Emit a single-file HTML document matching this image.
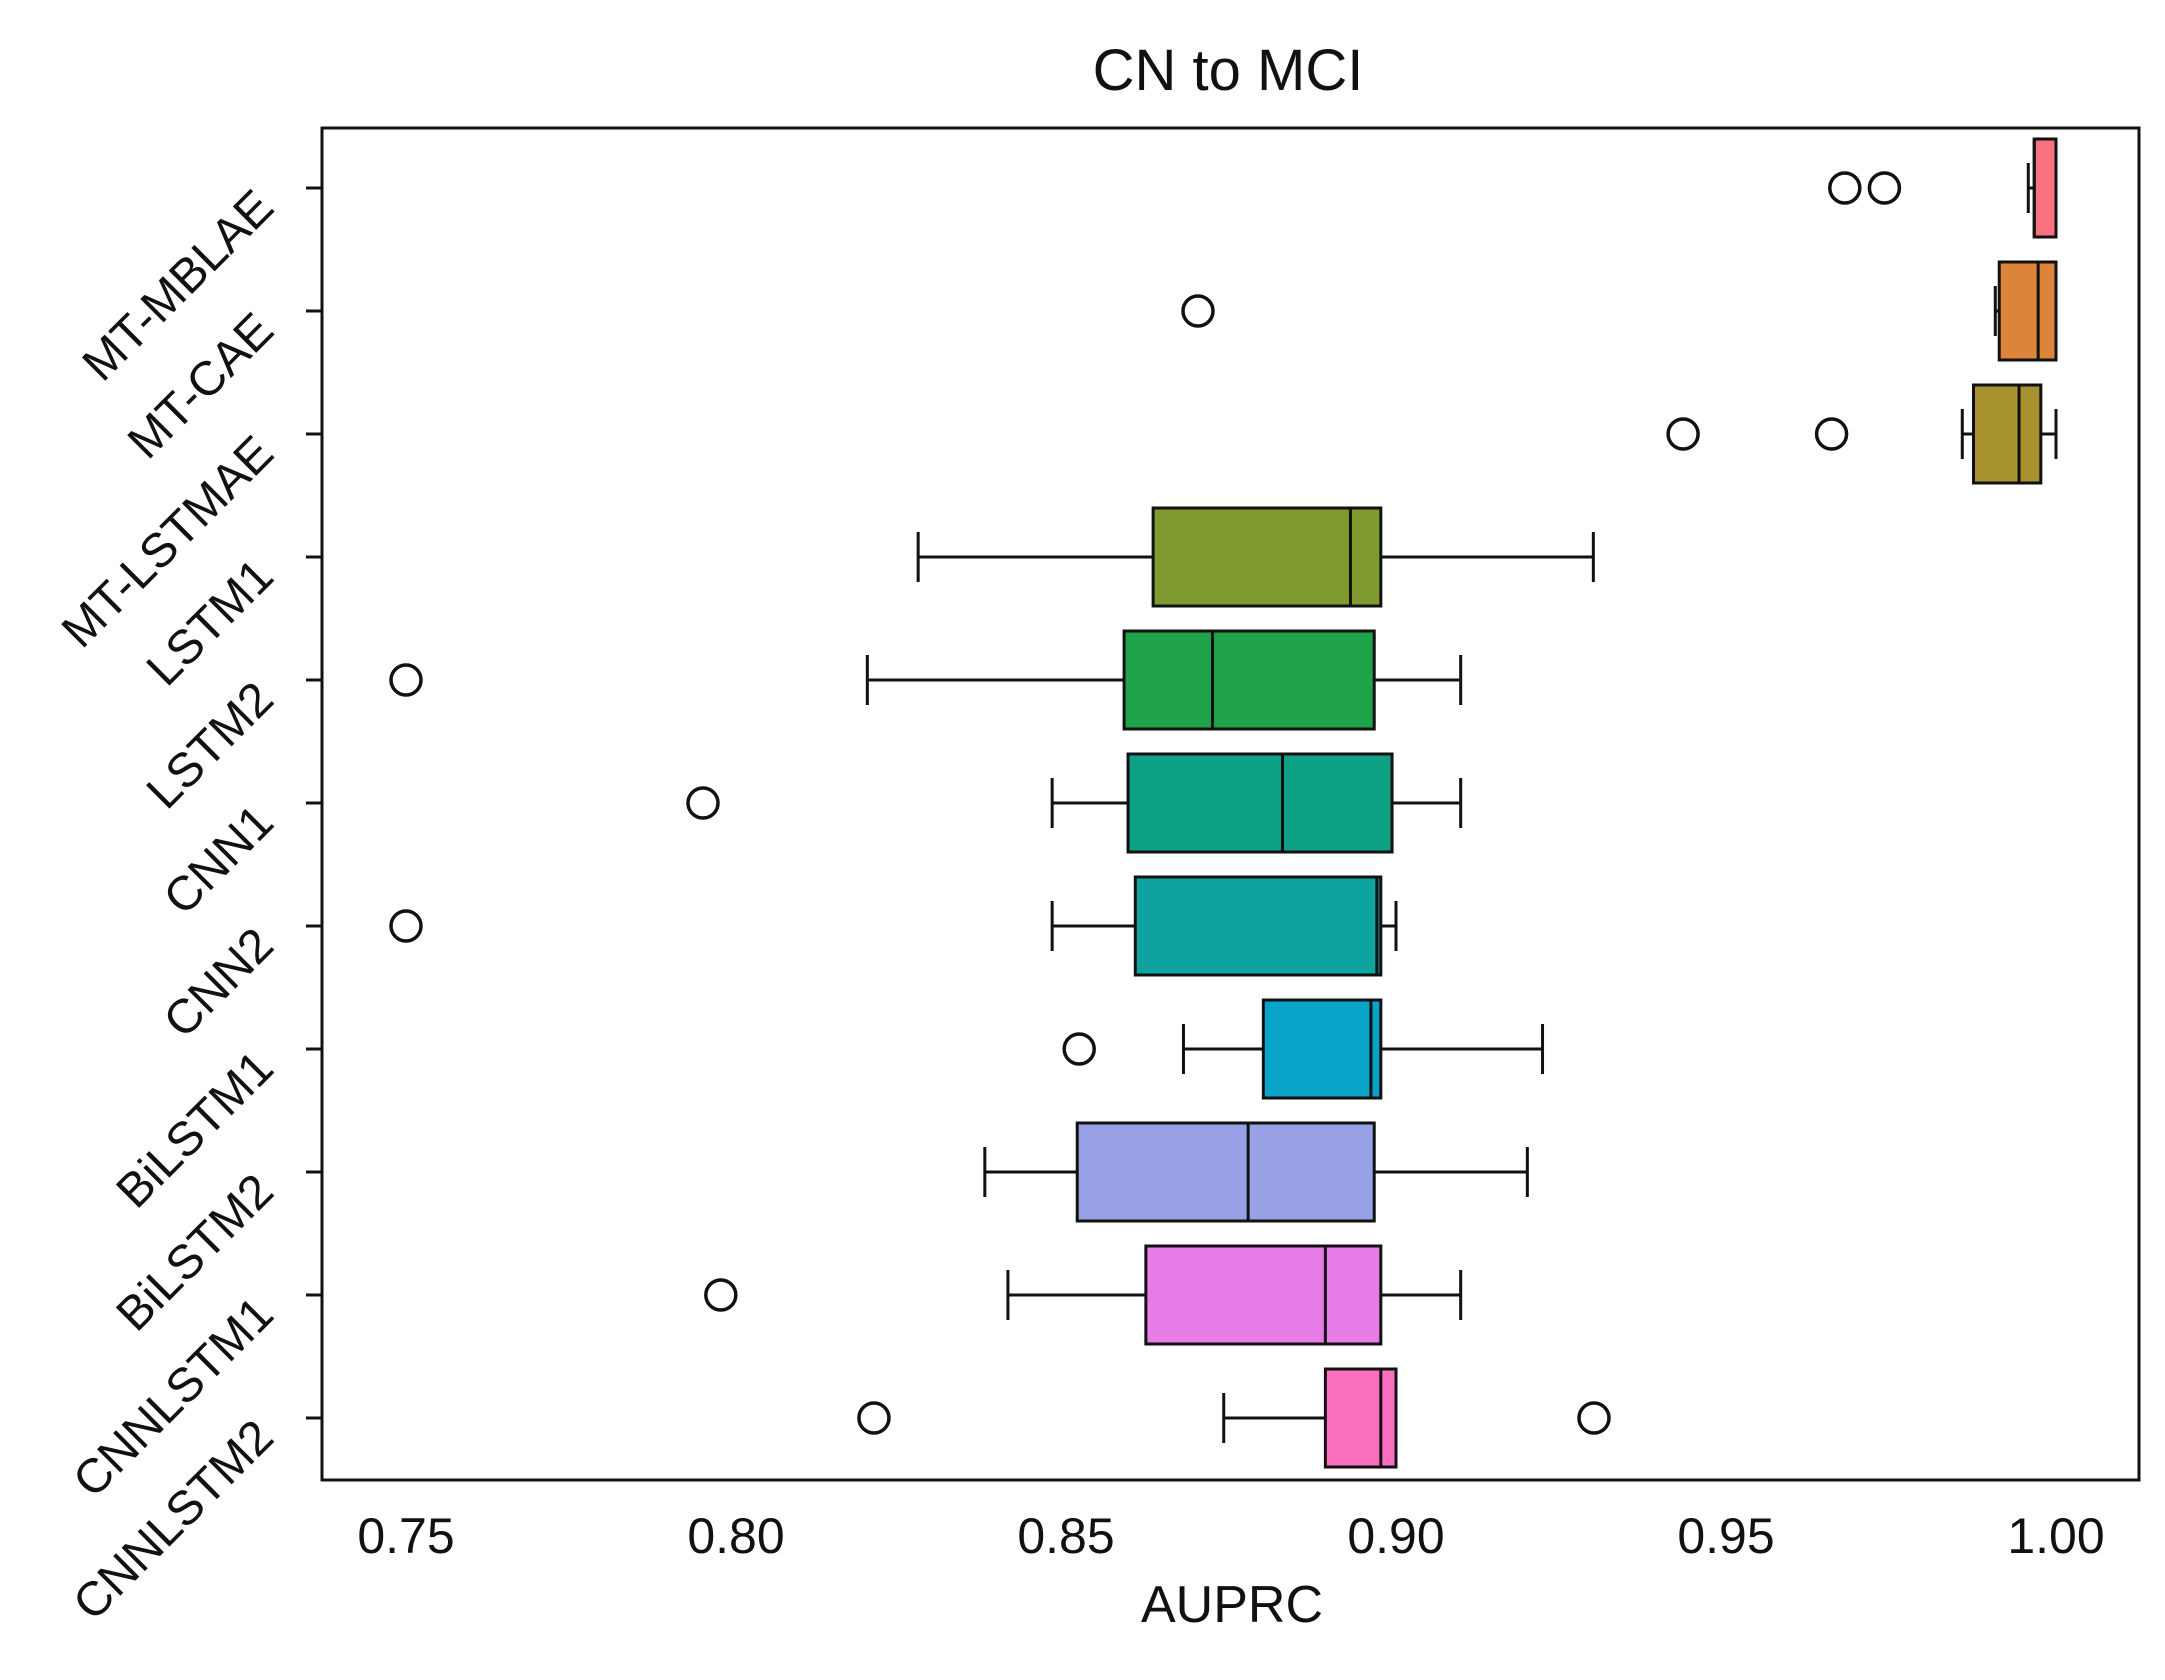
<!DOCTYPE html>
<html><head><meta charset="utf-8"><style>
html,body{margin:0;padding:0;background:#fff;}
svg{display:block;font-family:"Liberation Sans",sans-serif;}
</style></head><body>
<svg id="chart" width="2165" height="1680" viewBox="0 0 2165 1680"></svg>
<script>
const categories=["MT-MBLAE","MT-CAE","MT-LSTMAE","LSTM1","LSTM2","CNN1","CNN2","BiLSTM1","BiLSTM2","CNNLSTM1","CNNLSTM2"];
const whiskerLow=[0.9958,0.9908,0.9858,0.8276,0.8199,0.8479,0.8479,0.8678,0.8377,0.8412,0.8739];
const q1=[0.9967,0.9914,0.9875,0.8632,0.8588,0.8594,0.8605,0.8799,0.8517,0.8621,0.8893];
const median=[0.9967,0.9973,0.9944,0.8931,0.8722,0.8828,0.8971,0.8962,0.8776,0.8893,0.8977];
const q3=[1.0,1.0,0.9977,0.8977,0.8967,0.8994,0.8977,0.8977,0.8967,0.8977,0.9];
const whiskerHigh=[1.0,1.0,1.0,0.9299,0.9098,0.9098,0.9,0.9222,0.9199,0.9098,0.9];
const outliers=[[0.968,0.974],[0.870],[0.9435,0.966],[],[0.75],[0.795],[0.75],[0.852],[],[0.7977],[0.8209,0.93]];
const colors=["#f7727e","#dd843b","#a8912f","#7f9a2e","#1ea34a","#0ea185","#0fa3a0","#0aa3c8","#99a1e6","#e87ce6","#fb6fbf"];
const xTicks=[0.75,0.80,0.85,0.90,0.95,1.00];
const xTickLabels=["0.75","0.80","0.85","0.90","0.95","1.00"];

const NS="http://www.w3.org/2000/svg";
const svg=document.getElementById('chart');
const L=322,R=2139,T=128,B=1480;
const xs=v=>406+(v-0.75)/0.25*(2056-406);
const ys=i=>188+i*123.0;
const BH=98;
function mk(tag,attrs,parent){const e=document.createElementNS(NS,tag);for(const k in attrs)e.setAttribute(k,attrs[k]);(parent||svg).appendChild(e);return e;}

const title=mk('text',{x:1228,y:90,'text-anchor':'middle','font-size':58,fill:'#111'});
title.textContent="CN to MCI";



categories.forEach((c,i)=>{
  const y=ys(i);
  const g=mk('g',{});
  
  
  mk('line',{x1:xs(whiskerLow[i]),x2:xs(q1[i]),y1:y,y2:y,stroke:'#111','stroke-width':3},g);
  mk('line',{x1:xs(q3[i]),x2:xs(whiskerHigh[i]),y1:y,y2:y,stroke:'#111','stroke-width':3},g);
  mk('line',{x1:xs(whiskerLow[i]),x2:xs(whiskerLow[i]),y1:y-25,y2:y+25,stroke:'#111','stroke-width':3},g);
  mk('line',{x1:xs(whiskerHigh[i]),x2:xs(whiskerHigh[i]),y1:y-25,y2:y+25,stroke:'#111','stroke-width':3},g);
  mk('rect',{x:xs(q1[i]),y:y-BH/2,width:Math.max(1,xs(q3[i])-xs(q1[i])),height:BH,fill:colors[i],stroke:'#111','stroke-width':3},g);
  mk('line',{x1:xs(median[i]),x2:xs(median[i]),y1:y-BH/2,y2:y+BH/2,stroke:'#111','stroke-width':3},g);
  outliers[i].forEach(v=>{
    const o=mk('circle',{cx:xs(v),cy:y,r:15,fill:'none',stroke:'#111','stroke-width':3.5},g);
    
    
  });
  mk('line',{x1:L-16,x2:L,y1:y,y2:y,stroke:'#111','stroke-width':3});
  const t=mk('text',{x:276,y:y+22,'text-anchor':'end','font-size':48,fill:'#111',transform:`rotate(-45 276 ${y+22})`});
  t.textContent=c;
  
  
});

xTicks.forEach((v,i)=>{
  const t=mk('text',{x:xs(v),y:1553,'text-anchor':'middle','font-size':50,fill:'#111'});
  t.textContent=xTickLabels[i];
  
  
});

const frame=mk('rect',{x:L,y:T,width:R-L,height:B-T,fill:'none',stroke:'#111','stroke-width':3});



const xl=mk('text',{x:1232,y:1622,'text-anchor':'middle','font-size':52,fill:'#111'});
xl.textContent="AUPRC";


</script>
</body></html>
